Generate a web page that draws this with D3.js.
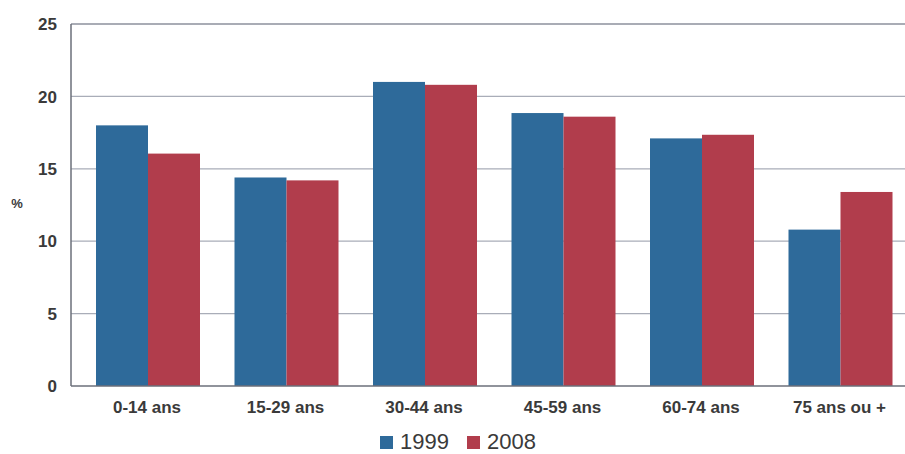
<!DOCTYPE html>
<html><head><meta charset="utf-8">
<script src="https://cdn.jsdelivr.net/npm/d3@7"></script>
<style>body{margin:0;background:#fff}svg{display:block}</style>
</head><body>
<svg id="c" width="905" height="454"></svg>
<script>
const categories = ["0-14 ans","15-29 ans","30-44 ans","45-59 ans","60-74 ans","75 ans ou +"];
const seriesNames = ["1999","2008"];
const values1999 = [18.0, 14.4, 21.0, 18.85, 17.1, 10.8];
const values2008 = [16.05, 14.2, 20.8, 18.6, 17.35, 13.4];
const yTicks = [0,5,10,15,20,25];
const colors = ["#2e6a9a","#b13d4c"];

const svg = d3.select("#c");
const plotL = 71, plotT = 24, plotB = 386, plotR = 905;
const x0 = d3.scaleBand().domain(categories).range([78.75, 909.75]).padding(0);
const x1 = d3.scaleBand().domain(seriesNames).range([17.25, 121.25]).padding(0);
const y = d3.scaleLinear().domain([0,25]).range([plotB, plotT]);
const font = "Liberation Sans, Arial, sans-serif";

// gridlines
svg.append("g").selectAll("line").data(yTicks.filter(d=>d>0)).join("line")
  .attr("x1", plotL).attr("x2", plotR)
  .attr("y1", d=>y(d)).attr("y2", d=>y(d))
  .attr("stroke", d=>d===25?"#8d919c":"#a9adb8").attr("stroke-width", 1.3);

const data = categories.map((c,i)=>({c, v:[values1999[i], values2008[i]]}));
const g = svg.append("g").selectAll("g").data(data).join("g")
  .attr("transform", d=>`translate(${x0(d.c)},0)`);
g.selectAll("rect").data(d=>d.v.map((v,j)=>({s:seriesNames[j], v, j}))).join("rect")
  .attr("x", d=>x1(d.s)).attr("width", x1.bandwidth())
  .attr("y", d=>y(d.v)).attr("height", d=>plotB - y(d.v))
  .attr("fill", d=>colors[d.j]);

// axes lines
svg.append("line").attr("x1", plotL).attr("x2", plotL).attr("y1", plotT).attr("y2", plotB)
  .attr("stroke", "#6b6f7a").attr("stroke-width", 1.5);
svg.append("line").attr("x1", plotL).attr("x2", plotR).attr("y1", plotB).attr("y2", plotB)
  .attr("stroke", "#6b6f7a").attr("stroke-width", 1.5);

// y tick labels
svg.append("g").selectAll("text").data(yTicks).join("text")
  .attr("x", 57).attr("y", d=>y(d)).attr("dy", "0.36em")
  .attr("text-anchor", "end")
  .attr("font-family", font)
  .attr("font-weight", "bold").attr("font-size", 17).attr("fill", "#3a3a3a")
  .text(d=>d);

svg.append("text").attr("x", 17).attr("y", 208)
  .attr("text-anchor", "middle")
  .attr("font-family", font)
  .attr("font-weight", "bold").attr("font-size", 13).attr("fill", "#3a3a3a").text("%");

// x labels
svg.append("g").selectAll("text").data(categories).join("text")
  .attr("x", d=>x0(d)+x0.bandwidth()/2 - 1).attr("y", 413)
  .attr("text-anchor", "middle")
  .attr("font-family", font)
  .attr("font-weight", "bold").attr("font-size", 17).attr("fill", "#3a3a3a")
  .text(d=>d);

// legend
const leg = svg.append("g");
const legX = [380, 467];
seriesNames.forEach((s,j)=>{
  leg.append("rect").attr("x", legX[j]).attr("y", 436).attr("width", 13).attr("height", 13).attr("fill", colors[j]);
  leg.append("text").attr("x", legX[j]+20).attr("y", 449)
    .attr("font-family", font)
    .attr("font-size", 22).attr("fill", "#3a3a3a").text(s);
});
</script>
</body></html>
